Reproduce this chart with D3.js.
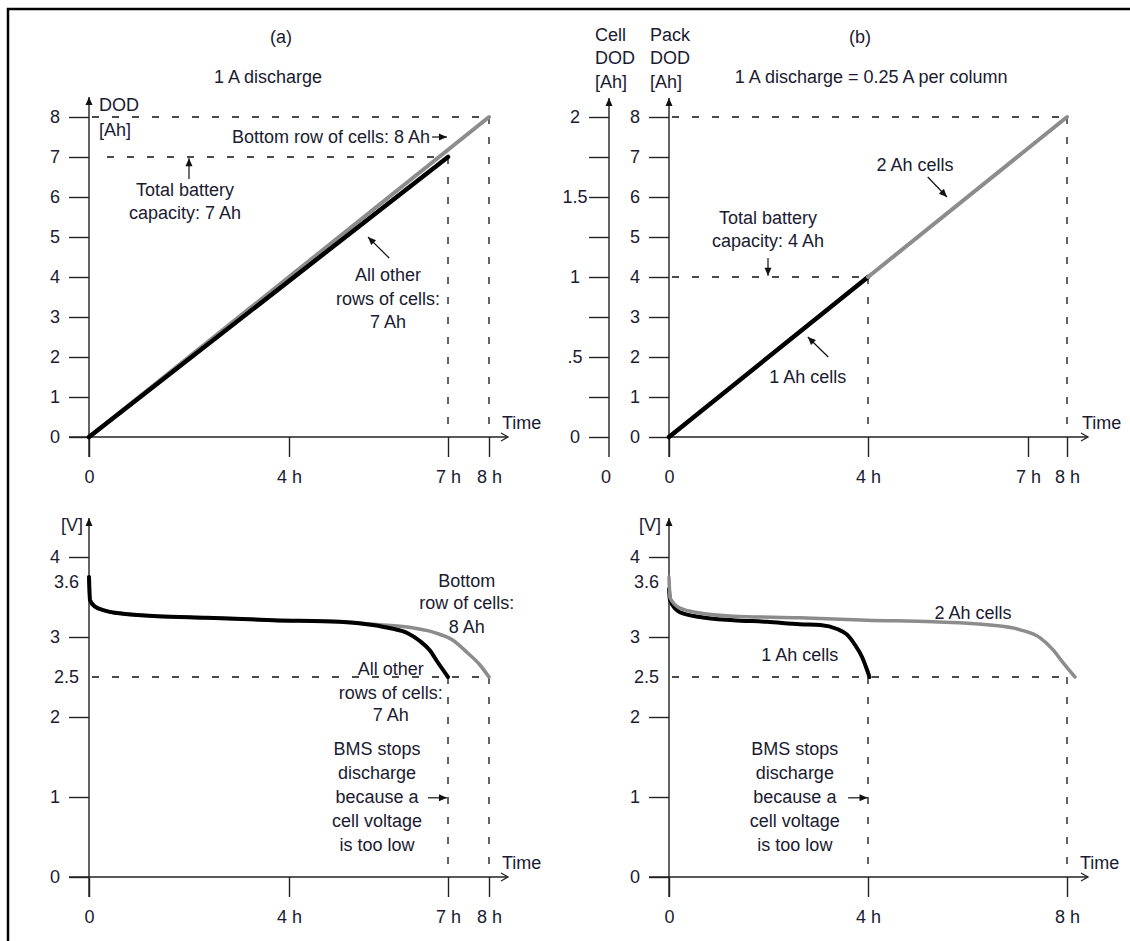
<!DOCTYPE html>
<html><head><meta charset="utf-8">
<script src="https://cdn.jsdelivr.net/npm/d3@7"></script>
<style>
body{margin:0;background:#fff}
text{font-family:"Liberation Sans",Arial,sans-serif;font-size:18px;fill:#1a1a30}
</style>
</head><body>
<svg id="c" width="1130" height="941"></svg>
<script>
// ---------- data ----------
const dodTicks = [0,1,2,3,4,5,6,7,8];
const cellTicks = [0,0.25,0.5,0.75,1,1.25,1.5,1.75,2];
const cellLabels = {0:"0",0.5:".5",1:"1",1.5:"1.5",2:"2"};
const timeTicksA = [0,4,7,8];
const timeLabelsA = ["0","4 h","7 h","8 h"];
const timeTicksB = [0,4,8];
const timeLabelsB = ["0","4 h","8 h"];
const voltTicks = [0,1,2,3,4];
const voltExtra = [3.6,2.5];

// (a) top: DOD vs time
const dodA_other = {t:[0,7], dod:[0,7]};
const dodA_bottom = {t:[0,8], dod:[0,8]};
// (b) top: pack DOD vs time
const dodB_1Ah = {t:[0,4], dod:[0,4]};
const dodB_2Ah = {t:[4,8], dod:[4,8]};

// (a) bottom: voltage curves
const vA_otherT = [0,0.02,0.12,0.32,0.68,1.36,2.36,3.68,4.96,5.58,5.91,6.23,6.47,6.66,6.79,7.0];
const vA_otherV = [3.75,3.46,3.38,3.33,3.29,3.26,3.24,3.21,3.19,3.15,3.11,3.05,2.95,2.83,2.70,2.5];
const vA_bottomT = [0,0.02,0.12,0.32,0.68,1.36,2.36,3.68,4.96,5.58,6.23,6.72,7.12,7.46,7.78,8.0];
const vA_bottomV = [3.75,3.46,3.38,3.33,3.29,3.26,3.24,3.21,3.19,3.16,3.125,3.06,2.96,2.81,2.65,2.5];
// (b) bottom
const vB_2AhT = [0,0.02,0.22,0.62,1.29,2.63,3.98,5.31,6.45,7.06,7.46,7.72,7.92,8.16];
const vB_2AhV = [3.75,3.49,3.36,3.30,3.26,3.24,3.21,3.19,3.15,3.09,2.99,2.84,2.68,2.5];
const vB_1AhT = [0,0.02,0.22,0.62,1.29,1.97,2.63,3.04,3.38,3.58,3.74,3.88,3.98,4.03];
const vB_1AhV = [3.6,3.46,3.31,3.25,3.21,3.19,3.16,3.15,3.10,3.03,2.90,2.75,2.59,2.5];

// ---------- scales ----------
const xTL = d3.scaleLinear().domain([0,4,7,8]).range([89,289,448,489]);
const yTL = d3.scaleLinear().domain([0,8]).range([437,117]);
const xTR = d3.scaleLinear().domain([0,4,7,8]).range([669,868,1028,1067]);
const yTR = d3.scaleLinear().domain([0,8]).range([437,117]);
const yCell = d3.scaleLinear().domain([0,2]).range([437,117]);
const xBL = d3.scaleLinear().domain([0,4,7,8]).range([89,289,448,489]);
const yBL = d3.scaleLinear().domain([0,4]).range([877,557]);
const xBR = d3.scaleLinear().domain([0,4,8]).range([669,868,1067]);
const yBR = d3.scaleLinear().domain([0,4]).range([877,557]);

const svg = d3.select("#c");
const defs = svg.append("defs");
defs.append("marker").attr("id","tri").attr("viewBox","-10 -5 11 10")
  .attr("refX",0).attr("refY",0).attr("markerWidth",11).attr("markerHeight",10)
  .attr("markerUnits","userSpaceOnUse").attr("orient","auto")
  .append("path").attr("d","M0,0L-8,-3.5L-8,3.5Z").attr("fill","#111");
defs.append("marker").attr("id","chev").attr("viewBox","-10 -6 12 12")
  .attr("refX",0).attr("refY",0).attr("markerWidth",12).attr("markerHeight",12)
  .attr("markerUnits","userSpaceOnUse").attr("orient","auto")
  .append("path").attr("d","M-7,-4L0,0L-7,4").attr("fill","none").attr("stroke","#222").attr("stroke-width",1.3);

// frame
svg.append("rect").attr("x",8).attr("y",9).attr("width",1200).attr("height",1000)
  .attr("fill","none").attr("stroke","#000").attr("stroke-width",2.5);

const AX = "#222";
function txt(x,y,s,anchor){
  return svg.append("text").attr("x",x).attr("y",y).attr("dy","0.35em")
    .attr("text-anchor",anchor||"middle").text(s);
}
function arrow(x1,y1,x2,y2){
  svg.append("line").attr("x1",x1).attr("y1",y1).attr("x2",x2).attr("y2",y2)
    .attr("stroke","#111").attr("stroke-width",1.2).attr("marker-end","url(#tri)");
}
function dashed(x1,y1,x2,y2){
  svg.append("line").attr("x1",x1).attr("y1",y1).attr("x2",x2).attr("y2",y2)
    .attr("stroke","#111").attr("stroke-width",1.3).attr("stroke-dasharray","7,13");
}
function yAxis(scale, x, ticks, fmt, yBottom, yTop){
  const g = svg.append("g").attr("transform",`translate(${x},0)`).attr("color",AX)
    .call(d3.axisLeft(scale).tickValues(ticks).tickFormat(fmt).tickSize(20).tickPadding(0));
  g.select(".domain").remove();
  g.selectAll(".tick text").attr("x",-34).attr("text-anchor","middle");
  g.selectAll(".tick line").attr("stroke-width",1.4);
  svg.append("line").attr("x1",x).attr("x2",x).attr("y1",yBottom).attr("y2",yTop)
    .attr("stroke",AX).attr("stroke-width",1.4).attr("marker-end","url(#tri)");
}
function xAxis(scale, y, ticks, labels, x0, x1){
  const g = svg.append("g").attr("transform",`translate(0,${y})`).attr("color",AX)
    .call(d3.axisBottom(scale).tickValues(ticks).tickFormat((d,i)=>labels[i]).tickSize(20).tickPadding(13));
  g.select(".domain").remove();
  g.selectAll(".tick line").attr("stroke-width",1.4);
  svg.append("line").attr("x1",x0).attr("x2",x1).attr("y1",y).attr("y2",y)
    .attr("stroke",AX).attr("stroke-width",1.4).attr("marker-end","url(#chev)");
}
function curve(xs, ys, ts, vs, color, w){
  const pts = ts.map((t,i)=>[xs(t), ys(vs[i])]);
  svg.append("path").attr("d", d3.line().curve(d3.curveMonotoneX)(pts))
    .attr("fill","none").attr("stroke",color).attr("stroke-width",w)
    .attr("stroke-linecap","round").attr("stroke-linejoin","round");
}
const GRAY = "#8c8c8c";

// ================= (a) top =================
dashed(xTL(0)+3, yTL(8), xTL(8), yTL(8));
dashed(xTL(0)+18, yTL(7), xTL(7), yTL(7));
dashed(xTL(7), yTL(7), xTL(7), yTL(0));
dashed(xTL(8), yTL(8), xTL(8), yTL(0));
yAxis(yTL, xTL(0), dodTicks, d=>String(d), yTL(0)+20, yTL(8)-20);
xAxis(xTL, yTL(0), timeTicksA, timeLabelsA, xTL(0)-20, xTL(8)+19);
curve(xTL, yTL, dodA_bottom.t, dodA_bottom.dod, GRAY, 4);
curve(xTL, yTL, dodA_other.t, dodA_other.dod, "#000", 4.5);
txt(xTL(3.84),37,"(a)");
txt(xTL(3.58),77,"1 A discharge");
txt(xTL(0)+10,105,"DOD","start");
txt(xTL(0)+10,130,"[Ah]","start");
txt(430,yTL(7.5),"Bottom row of cells: 8 Ah","end");
arrow(xTL(6.70), yTL(7.5), xTL(6.98), yTL(7.5));
txt(xTL(1.92), yTL(6.175), "Total battery");
txt(xTL(1.92), yTL(5.6), "capacity: 7 Ah");
arrow(xTL(2), yTL(6.45), xTL(2), yTL(6.97));
txt(xTL(5.87), yTL(4.05), "All other");
txt(xTL(5.87), yTL(3.45), "rows of cells:");
txt(xTL(5.87), yTL(2.875), "7 Ah");
arrow(xTL(5.89), yTL(4.475), xTL(5.49), yTL(5.0));
txt(xTL(8)+13, yTL(0)-14, "Time","start");

// ================= (b) top =================
dashed(xTR(0)+3, yTR(8), xTR(8), yTR(8));
dashed(xTR(0)+3, yTR(4), xTR(4), yTR(4));
dashed(xTR(4), yTR(4), xTR(4), yTR(0));
dashed(xTR(8), yTR(8), xTR(8), yTR(0));
yAxis(yCell, 609, cellTicks, d=>cellLabels[d]!==undefined?cellLabels[d]:"", yCell(0)+20, yCell(2)-19);
yAxis(yTR, xTR(0), dodTicks, d=>String(d), yTR(0)+20, yTR(8)-19);
xAxis(xTR, yTR(0), timeTicksA, timeLabelsA, xTR(0), xTR(8)+21);
txt(606, yTR(0)+40, "0");
curve(xTR, yTR, dodB_1Ah.t, dodB_1Ah.dod, "#000", 4.5);
curve(xTR, yTR, dodB_2Ah.t, dodB_2Ah.dod, GRAY, 4);
txt(xTR(3.84),37,"(b)");
txt(xTR(4.06),77,"1 A discharge = 0.25 A per column");
txt(595,35,"Cell","start"); txt(595,58,"DOD","start"); txt(595,82,"[Ah]","start");
txt(650,35,"Pack","start"); txt(650,58,"DOD","start"); txt(650,82,"[Ah]","start");
txt(xTR(1.99), yTR(5.475), "Total battery");
txt(xTR(1.99), yTR(4.9), "capacity: 4 Ah");
arrow(xTR(1.99), yTR(4.475), xTR(1.99), yTR(4.03));
txt(xTR(4.88), yTR(6.8), "2 Ah cells");
arrow(xTR(5.12), yTR(6.5), xTR(5.48), yTR(6.0));
txt(xTR(2.79), yTR(1.5), "1 Ah cells");
arrow(xTR(3.2), yTR(2.0), xTR(2.79), yTR(2.5));
txt(xTR(8)+15, yTR(0)-14, "Time","start");

// ================= (a) bottom =================
dashed(xBL(0)+3, yBL(2.5), xBL(8), yBL(2.5));
dashed(xBL(7), yBL(2.5), xBL(7), yBL(0));
dashed(xBL(8), yBL(2.5), xBL(8), yBL(0));
yAxis(yBL, xBL(0), voltTicks, d=>String(d), yBL(0)+20, yBL(4)-39);
voltExtra.forEach(v=>{ txt(xBL(0)-10, yBL(v)-(v>3?7:0), String(v), "end"); });
xAxis(xBL, yBL(0), timeTicksA, timeLabelsA, xBL(0)-20, xBL(8)+19);
curve(xBL, yBL, vA_bottomT, vA_bottomV, GRAY, 3.5);
curve(xBL, yBL, vA_otherT, vA_otherV, "#000", 4);
txt(72,525,"[V]");
txt(xBL(7.46), yBL(3.71), "Bottom");
txt(xBL(7.46), yBL(3.425), "row of cells:");
txt(xBL(7.46), yBL(3.125), "8 Ah");
txt(xBL(5.92), yBL(2.61), "All other");
txt(xBL(5.92), yBL(2.3), "rows of cells:");
txt(xBL(5.92), yBL(2.025), "7 Ah");
[["BMS stops",1.61],["discharge",1.31],["because a",1.0],["cell voltage",0.7],["is too low",0.4]]
  .forEach(([s,v])=>txt(xBL(5.66), yBL(v), s));
arrow(xBL(6.62), yBL(0.99), xBL(6.98), yBL(0.99));
txt(xBL(8)+13, yBL(0)-14, "Time","start");

// ================= (b) bottom =================
dashed(xBR(0)+3, yBR(2.5), xBR(8), yBR(2.5));
dashed(xBR(4), yBR(2.5), xBR(4), yBR(0));
dashed(xBR(8), yBR(2.5), xBR(8), yBR(0));
yAxis(yBR, xBR(0), voltTicks, d=>String(d), yBR(0)+20, yBR(4)-39);
voltExtra.forEach(v=>{ txt(xBR(0)-10, yBR(v)-(v>3?7:0), String(v), "end"); });
xAxis(xBR, yBR(0), timeTicksB, timeLabelsB, xBR(0)-20, xBR(8)+21);
curve(xBR, yBR, vB_1AhT, vB_1AhV, "#000", 4);
curve(xBR, yBR, vB_2AhT, vB_2AhV, GRAY, 3.5);
txt(650,525,"[V]");
txt(xBR(6.11), yBR(3.31), "2 Ah cells");
txt(xBR(2.63), yBR(2.775), "1 Ah cells");
[["BMS stops",1.61],["discharge",1.31],["because a",1.0],["cell voltage",0.7],["is too low",0.4]]
  .forEach(([s,v])=>txt(xBR(2.53), yBR(v), s));
arrow(xBR(3.6), yBR(0.99), xBR(3.99), yBR(0.99));
txt(xBR(8)+13, yBR(0)-14, "Time","start");
</script>
</body></html>
